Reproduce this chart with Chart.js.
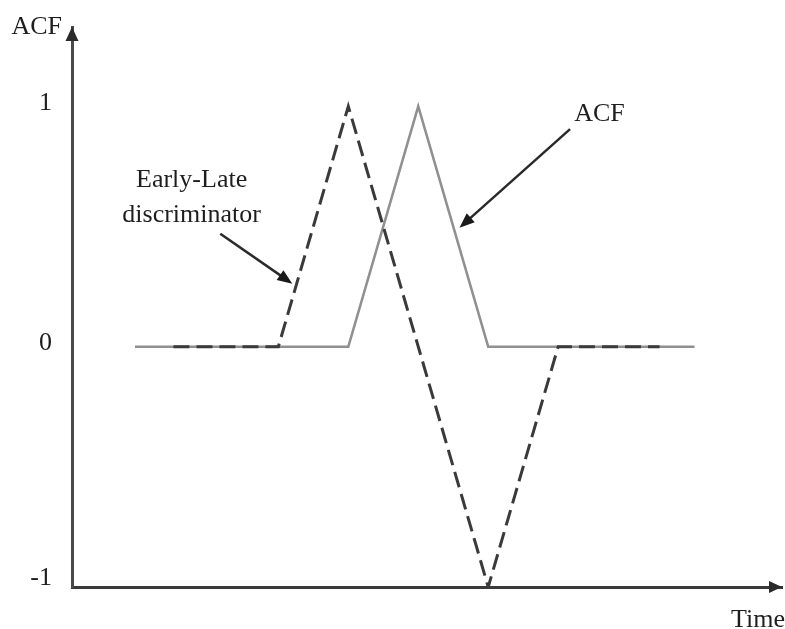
<!DOCTYPE html>
<html>
<head>
<meta charset="utf-8">
<script src="https://cdn.jsdelivr.net/npm/chart.js@4"></script>
<style>
  html, body { margin: 0; padding: 0; background: #ffffff; }
  #wrap { width: 785px; height: 629px; position: relative; }
</style>
</head>
<body>
<div id="wrap"><canvas id="c" width="785" height="629"></canvas></div>
<script>
// ---- data (time in chips, amplitude normalised) ----
const acfTime   = [-4.05, -1, 0, 1, 3.95];
const acfValues = [0, 0, 1, 0, 0];
const elTime    = [-3.5, -2, -1, 1, 2, 3.45];
const elValues  = [0, 0, 1, -1, 0, 0];
const yTickValues = [-1, 0, 1];
const yTickLabels = ['-1', '0', '1'];
const xAxisTitle = 'Time';
const yAxisTitle = 'ACF';
// annotations: label lines, label anchor (x, y), arrow from -> to, in data units
const annoLabels = [['Early-Late', 'discriminator'], ['ACF']];
const annoTextAt = [[-3.24, 0.665], [2.59, 0.94]];
const annoArrowFrom = [[-2.83, 0.47], [2.17, 0.905]];
const annoArrowTo   = [[-1.80, 0.262], [0.59, 0.495]];

const pts = (xs, ys) => xs.map((x, i) => ({ x, y: ys[i] }));
const FONT = '26px "Liberation Serif", "Times New Roman", serif';
const INK = '#1e1e1e';

function arrowHead(ctx, tx, ty, angle, len, half) {
  ctx.beginPath();
  ctx.moveTo(tx, ty);
  ctx.lineTo(tx - len * Math.cos(angle) + half * Math.sin(angle), ty - len * Math.sin(angle) - half * Math.cos(angle));
  ctx.lineTo(tx - len * Math.cos(angle) - half * Math.sin(angle), ty - len * Math.sin(angle) + half * Math.cos(angle));
  ctx.closePath();
  ctx.fill();
}

const decor = {
  id: 'decor',
  afterDraw(chart) {
    const { ctx, chartArea: a, scales: { x, y } } = chart;
    ctx.save();
    // axis arrowheads
    ctx.fillStyle = '#2a2a2a';
    arrowHead(ctx, a.right, a.bottom, 0, 13, 6);
    arrowHead(ctx, a.left, a.top, -Math.PI / 2, 14, 6.5);
    // axis titles
    ctx.font = FONT;
    ctx.fillStyle = INK;
    ctx.textBaseline = 'alphabetic';
    ctx.textAlign = 'right';
    ctx.fillText(yAxisTitle, a.left - 10, a.top + 7);
    ctx.textAlign = 'left';
    ctx.fillText(xAxisTitle, 731, a.bottom + 40);
    // y tick labels
    ctx.textAlign = 'right';
    ctx.textBaseline = 'middle';
    yTickValues.forEach((v, i) => {
      let py = y.getPixelForValue(v) - 3;
      py = Math.min(py, a.bottom - 9);
      ctx.fillText(yTickLabels[i], a.left - 20, py);
    });
    // annotations
    ctx.textAlign = 'center';
    ctx.textBaseline = 'alphabetic';
    annoLabels.forEach((lines, i) => {
      const px = x.getPixelForValue(annoTextAt[i][0]);
      const py = y.getPixelForValue(annoTextAt[i][1]);
      lines.forEach((t, j) => ctx.fillText(t, px, py + j * 35));
      const fx = x.getPixelForValue(annoArrowFrom[i][0]), fy = y.getPixelForValue(annoArrowFrom[i][1]);
      const tx = x.getPixelForValue(annoArrowTo[i][0]), ty = y.getPixelForValue(annoArrowTo[i][1]);
      const ang = Math.atan2(ty - fy, tx - fx);
      ctx.strokeStyle = '#2a2a2a';
      ctx.lineWidth = 2.5;
      ctx.beginPath();
      ctx.moveTo(fx, fy);
      ctx.lineTo(tx - 8 * Math.cos(ang), ty - 8 * Math.sin(ang));
      ctx.stroke();
      ctx.fillStyle = '#1a1a1a';
      arrowHead(ctx, tx, ty, ang, 15, 6);
      ctx.fillStyle = INK;
    });
    ctx.restore();
  }
};

new Chart(document.getElementById('c'), {
  type: 'line',
  data: {
    datasets: [
      {
        label: 'Early-Late discriminator',
        data: pts(elTime, elValues),
        borderColor: '#3a3a3a',
        borderWidth: 3,
        borderDash: [16, 7],
        borderJoinStyle: 'miter',
        pointRadius: 0,
        tension: 0,
        fill: false
      },
      {
        label: 'ACF',
        data: pts(acfTime, acfValues),
        borderColor: '#909090',
        borderWidth: 2.5,
        borderJoinStyle: 'miter',
        pointRadius: 0,
        tension: 0,
        fill: false
      }
    ]
  },
  options: {
    responsive: false,
    animation: false,
    layout: { padding: { top: 27, right: 3, left: 0, bottom: 0 } },
    plugins: { legend: { display: false }, tooltip: { enabled: false }, title: { display: false } },
    scales: {
      x: {
        type: 'linear',
        min: -4.95, max: 5.2,
        grid: { display: false, drawTicks: false },
        ticks: { display: false },
        border: { display: true, color: '#3a3a3a', width: 3 },
        afterFit(s) { s.height = 42; }
      },
      y: {
        type: 'linear',
        min: -1, max: 1.33,
        grid: { display: false, drawTicks: false },
        ticks: { display: false },
        border: { display: true, color: '#4a4a4a', width: 3 },
        afterFit(s) { s.width = 72; }
      }
    }
  },
  plugins: [decor]
});
</script>
</body>
</html>
